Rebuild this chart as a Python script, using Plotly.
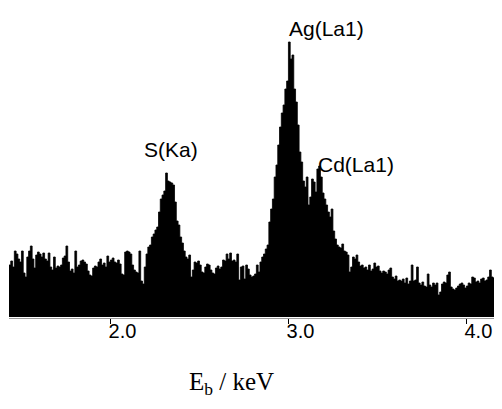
import plotly.graph_objects as go

# EDX spectrum, channel energies (keV) and counts (arbitrary units)
e_start = 1.43
e_step = 0.01
counts = [
    52, 56, 50, 66, 63, 58, 55, 66, 44, 40,
    60, 66, 71, 58, 49, 62, 65, 63, 60, 64,
    58, 56, 64, 50, 47, 60, 49, 51, 50, 52,
    59, 61, 71, 55, 46, 48, 44, 66, 50, 52,
    56, 57, 55, 53, 46, 42, 41, 49, 51, 50,
    55, 58, 52, 54, 50, 61, 55, 57, 59, 55,
    54, 57, 53, 43, 42, 65, 66, 65, 63, 52,
    47, 45, 44, 66, 36, 33, 50, 63, 70, 72,
    80, 83, 87, 90, 105, 118, 122, 126, 144, 136,
    135, 134, 132, 115, 96, 92, 80, 74, 66, 60,
    58, 62, 40, 47, 55, 54, 56, 52, 45, 44,
    50, 53, 52, 47, 44, 43, 49, 51, 48, 50,
    57, 56, 63, 58, 64, 56, 57, 55, 63, 37,
    50, 51, 38, 52, 48, 42, 40, 41, 43, 52,
    45, 55, 60, 63, 68, 72, 95, 108, 118, 140,
    152, 172, 190, 204, 212, 228, 236, 275, 258, 262,
    228, 215, 192, 165, 155, 136, 130, 140, 112, 120,
    138, 135, 125, 148, 151, 140, 124, 118, 112, 105,
    100, 108, 86, 78, 72, 70, 69, 73, 66, 65,
    62, 45, 50, 60, 58, 62, 55, 51, 52, 49,
    50, 47, 52, 46, 48, 54, 50, 51, 46, 44,
    46, 45, 43, 47, 49, 40, 38, 41, 36, 37,
    36, 38, 34, 39, 33, 36, 52, 36, 37, 50,
    34, 32, 35, 31, 30, 43, 32, 30, 34, 32,
    34, 22, 25, 33, 35, 34, 42, 45, 30, 28,
    27, 29, 31, 33, 34, 32, 29, 31, 34, 33,
    40, 39, 35, 36, 34, 38, 39, 36, 37, 40,
    47, 40, 39, 41, 48, 38, 37, 36,
]
energy = [round(e_start + e_step * i, 4) for i in range(len(counts))]

tick_vals = [2.0, 3.0, 4.0]
tick_text = ["2.0", "3.0", "4.0"]

peak_labels = ["S(Ka)", "Ag(La1)", "Cd(La1)"]
peak_label_x = [2.343, 3.213, 3.382]
peak_label_y = [168, 289, 153]

axis_title = "E<sub>b</sub> / keV"

fig = go.Figure()
fig.add_trace(go.Scatter(
    x=energy, y=counts, mode="lines", line=dict(shape="hv", color="black", width=0.8),
    fill="tozeroy", fillcolor="black", showlegend=False, hoverinfo="skip",
))

for t, x, y in zip(peak_labels, peak_label_x, peak_label_y):
    fig.add_annotation(x=x, y=y, xref="x", yref="y", text=t, showarrow=False,
                       xanchor="center", yanchor="middle",
                       font=dict(family="Liberation Sans, Arial, sans-serif", size=21, color="black"))

fig.add_annotation(x=2.68, xref="x", y=-0.219, yref="paper",
                   text=axis_title, showarrow=False, xanchor="center", yanchor="middle",
                   font=dict(family="Liberation Serif, Times New Roman, serif", size=25, color="black"))

# the page body has an 8 px margin; keep the figure inside the window so no scrollbars appear
fig.update_layout(
    width=494, height=393,
    margin=dict(l=1, r=0, t=9, b=83),
    paper_bgcolor="white", plot_bgcolor="white",
    xaxis=dict(range=[1.43, 4.2], tickvals=tick_vals, ticktext=tick_text,
               ticks="outside", ticklen=5, tickwidth=1, tickcolor="black",
               ticklabelshift=12, ticklabelstandoff=-10,
               showline=True, linecolor="#999999", linewidth=1, showgrid=False, zeroline=False,
               tickfont=dict(family="Liberation Sans, Arial, sans-serif", size=20, color="black")),
    yaxis=dict(range=[-1, 300], visible=False, showgrid=False, zeroline=False),
)

fig.write_html("out.html")
